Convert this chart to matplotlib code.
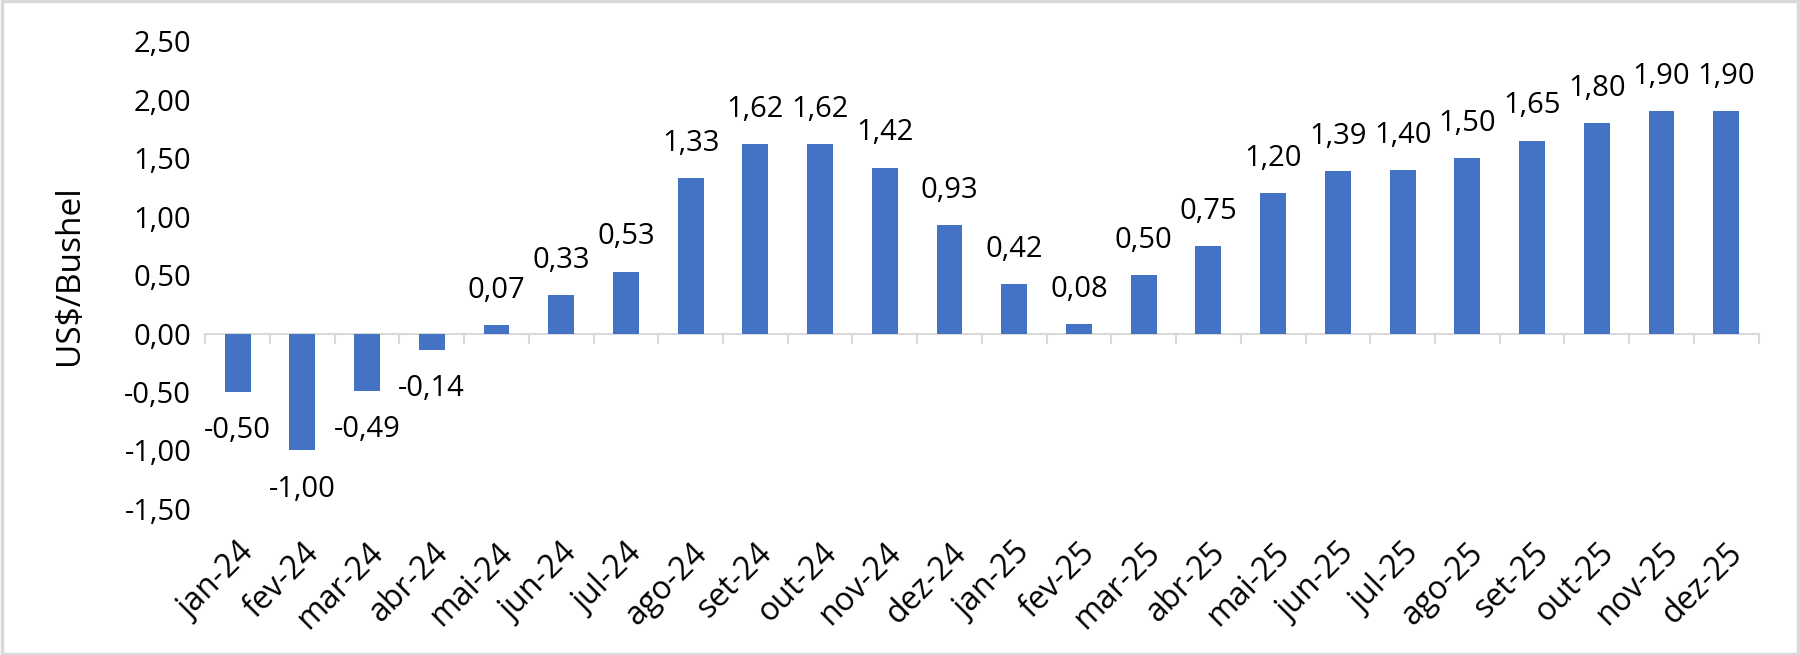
import numpy as np
import matplotlib
matplotlib.use("Agg")
import matplotlib.pyplot as plt
from matplotlib.patches import Rectangle
from matplotlib.ticker import FuncFormatter

plt.rcParams['font.family'] = ['Open Sans', 'DejaVu Sans']

# Data
months = ['jan-24', 'fev-24', 'mar-24', 'abr-24', 'mai-24', 'jun-24', 'jul-24', 'ago-24',
          'set-24', 'out-24', 'nov-24', 'dez-24', 'jan-25', 'fev-25', 'mar-25', 'abr-25',
          'mai-25', 'jun-25', 'jul-25', 'ago-25', 'set-25', 'out-25', 'nov-25', 'dez-25']
values = [-0.50, -1.00, -0.49, -0.14, 0.07, 0.33, 0.53, 1.33,
          1.62, 1.62, 1.42, 0.93, 0.42, 0.08, 0.50, 0.75,
          1.20, 1.39, 1.40, 1.50, 1.65, 1.80, 1.90, 1.90]
y_ticks = [-1.5, -1.0, -0.5, 0.0, 0.5, 1.0, 1.5, 2.0, 2.5]

def br(v):
    return f"{v:.2f}".replace('.', ',')

fig = plt.figure(figsize=(18, 6.55), dpi=100)
ax = fig.add_axes([0.114, 0.223, 0.863, 0.714])

x = np.arange(len(values))
bars = ax.bar(x, values, width=0.4, color='#4472C4', zorder=3)

for xi, v in zip(x, values):
    off = 25 if v >= 0 else -28
    ax.annotate(br(v), (xi, v), xytext=(0, off), textcoords='offset points',
                ha='center', va='center', fontsize=21, color='#000000')

ax.set_xlim(-0.5, len(values) - 0.5)
ax.set_ylim(-1.5, 2.5)
ax.set_yticks(y_ticks)
ax.yaxis.set_major_formatter(FuncFormatter(lambda v, p: br(v)))
ax.tick_params(axis='y', length=0, labelsize=21, pad=10)

ax.set_xticks(x)
ax.set_xticklabels(months, rotation=45, ha='right', va='top', rotation_mode='anchor')
ax.tick_params(axis='x', length=0, labelsize=23, pad=20)

for s in ax.spines.values():
    s.set_visible(False)

ax.set_ylabel('US$/Bushel', fontsize=24)
ax.yaxis.set_label_coords(-0.077, 0.5)

# category axis line at zero with tick marks between categories
zero_pos = (0 - ax.get_ylim()[0]) / (ax.get_ylim()[1] - ax.get_ylim()[0])
sec = ax.secondary_xaxis(zero_pos)
sec.set_xticks(np.arange(len(values) + 1) - 0.5)
sec.tick_params(axis='x', length=7, width=1.5, color='#D9D9D9', labelbottom=False, labeltop=False)
for s in sec.spines.values():
    s.set_color('#D9D9D9')
    s.set_linewidth(1.5)

fig.patches.append(Rectangle((0.001, 0.002), 0.998, 0.996, transform=fig.transFigure,
                             fill=False, edgecolor='#D9D9D9', linewidth=2.5))

fig.savefig('out.png', dpi=100)
